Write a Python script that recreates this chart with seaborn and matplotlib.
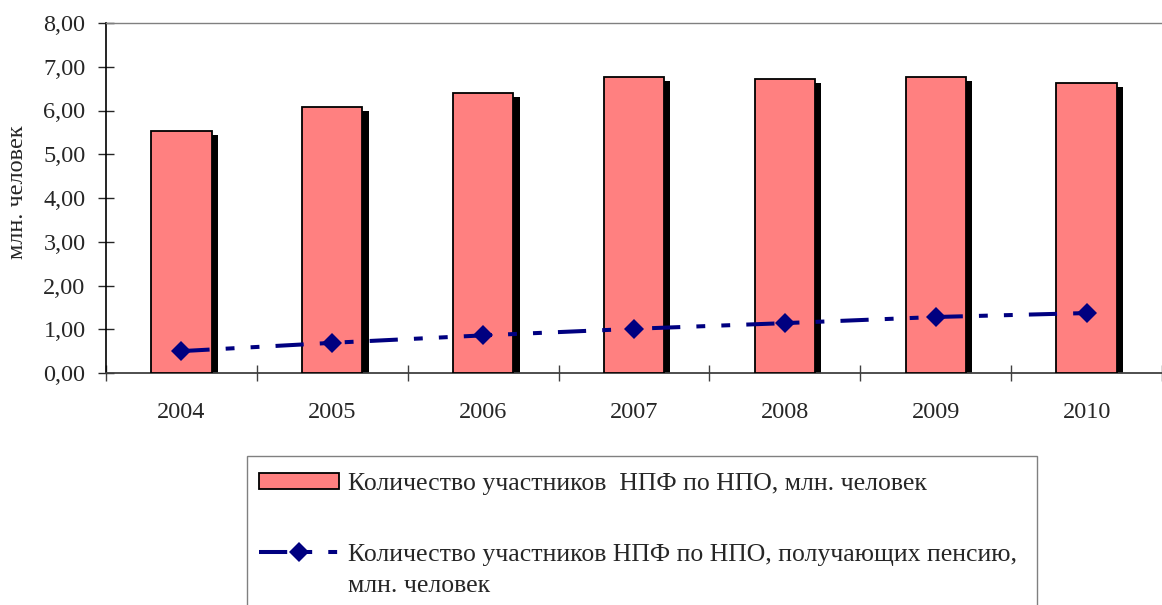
import numpy as np
import pandas as pd
import seaborn as sns
import matplotlib.pyplot as plt
from matplotlib.patches import Patch, Rectangle
from matplotlib.lines import Line2D
from matplotlib.ticker import FuncFormatter
from matplotlib.transforms import ScaledTranslation

#----------------------------------------------------------
# Data
#----------------------------------------------------------
years = ["2004", "2005", "2006", "2007", "2008", "2009", "2010"]
members = [5.53, 6.08, 6.40, 6.77, 6.72, 6.77, 6.63]
pensioners = [0.50, 0.69, 0.86, 1.01, 1.14, 1.28, 1.37]
yticks = [0, 1, 2, 3, 4, 5, 6, 7, 8]

bar_label = "Количество участников  НПФ по НПО, млн. человек"
line_label = "Количество участников НПФ по НПО, получающих пенсию,"
line_label_2 = "млн. человек"
y_title = "млн. человек"

BAR_COLOR = "#FF8080"
LINE_COLOR = "#000080"
DASHES = (7, 4, 2.2, 4, 2.2, 4)
FS = 17.5
LEG_FS = 18.5

#----------------------------------------------------------
# Figure
#----------------------------------------------------------
sns.set_style("white")
plt.rcParams['font.family'] = ['Liberation Serif', 'DejaVu Serif']

df = pd.DataFrame({"year": years, "members": members, "pensioners": pensioners})

W, H = 1162, 605
fig = plt.figure(figsize=(W / 100, H / 100), dpi=100)
ax = fig.add_axes([106 / W, 1 - 373 / H, 1 - 106 / W, (373 - 23) / H])

# black drop shadow: same bars, shifted right and down
sns.barplot(data=df, x="year", y="members", color="black", saturation=1,
            linewidth=0, width=0.4, ax=ax, zorder=2)
shift = ax.transData + ScaledTranslation(4.5 / 72, -3 / 72, fig.dpi_scale_trans)
for bar in list(ax.patches):
    bar.set_transform(shift)

sns.barplot(data=df, x="year", y="members", color=BAR_COLOR, saturation=1,
            edgecolor="black", linewidth=1.3, width=0.4, ax=ax, zorder=3)

sns.pointplot(data=df, x="year", y="pensioners", color=LINE_COLOR, markers="D",
              errorbar=None, markersize=10, linewidth=2.9, ax=ax, zorder=6)
for ln in ax.lines:
    ln.set_dashes(DASHES)
    ln.set_markeredgewidth(0)

#----------------------------------------------------------
# Axes
#----------------------------------------------------------
ax.set_ylim(0, 8)
ax.set_xlim(-0.5, len(years) - 0.5)
ax.set_yticks(yticks)
ax.yaxis.set_major_formatter(FuncFormatter(lambda v, p: f"{v:.2f}".replace(".", ",")))
ax.set_xticks(np.arange(len(years) + 1) - 0.5, minor=True)
ax.set_xlabel("")
ax.set_ylabel("")

ax.tick_params(axis="x", which="major", length=0, pad=21, labelsize=FS)
ax.tick_params(axis="x", which="minor", bottom=True, direction="inout", length=11.5, width=1, color="#404040")
ax.tick_params(axis="y", left=True, direction="inout", length=11.5, width=1, pad=9, labelsize=FS)

for side in ["left", "bottom", "top"]:
    ax.spines[side].set_visible(True)
ax.spines["left"].set_color("black")
ax.spines["left"].set_linewidth(1.2)
ax.spines["bottom"].set_color("#404040")
ax.spines["bottom"].set_linewidth(1.3)
ax.spines["top"].set_color("#808080")
ax.spines["top"].set_linewidth(1)
ax.spines["right"].set_visible(False)

fig.text(18 / W, 1 - 192 / H, y_title, rotation=90, ha="center", va="center", fontsize=FS)

#----------------------------------------------------------
# Legend
#----------------------------------------------------------
handles = [
    Patch(facecolor=BAR_COLOR, edgecolor="black", linewidth=1.3),
    Line2D([], [], color=LINE_COLOR, marker="D", markersize=10, markeredgewidth=0,
           linewidth=2.9, dashes=DASHES),
]
leg = fig.legend(handles, [bar_label, line_label], loc="upper left",
                 bbox_to_anchor=(259 / W, 1 - 473 / H), frameon=False, fontsize=LEG_FS,
                 handlelength=3.1, handleheight=0.55, handletextpad=0.35,
                 labelspacing=1.9, borderpad=0, borderaxespad=0)

# wrapped second line of the second legend entry
fig.text(348 / W, 1 - 586 / H, line_label_2, ha="left", va="center", fontsize=LEG_FS)

fig.add_artist(Rectangle((247 / W, -0.05), (1037 - 247) / W, 0.05 + 1 - 456 / H,
                         transform=fig.transFigure, fill=False, edgecolor="#808080", linewidth=1))

fig.savefig("out.png", dpi=100)
